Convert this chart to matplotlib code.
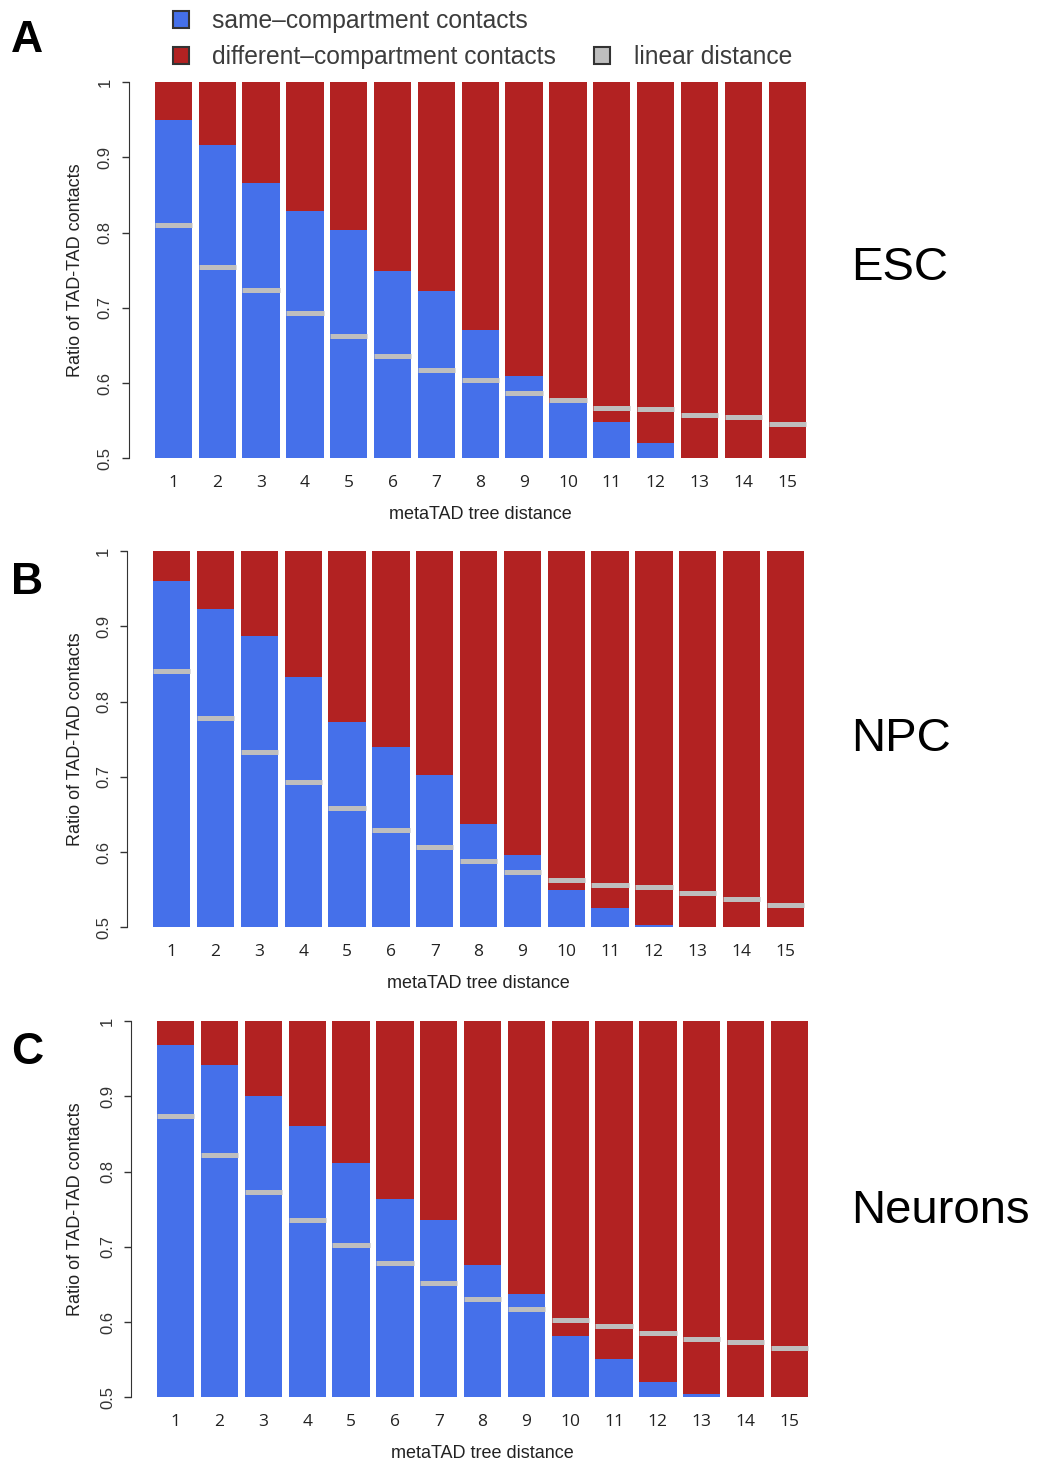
import numpy as np
import matplotlib
matplotlib.use('Agg')
import matplotlib.pyplot as plt
from matplotlib.patches import Patch
from matplotlib.lines import Line2D

plt.rcParams['font.family'] = ['Liberation Sans', 'DejaVu Sans']

# metaTAD tree distance 1..15
distance = np.arange(1, 16)

# ratio of same-compartment contacts (blue part of each bar)
esc_same = [0.949, 0.916, 0.866, 0.829, 0.803, 0.749, 0.722, 0.670,
            0.610, 0.573, 0.548, 0.520, 0.500, 0.500, 0.500]
npc_same = [0.960, 0.923, 0.887, 0.833, 0.773, 0.739, 0.703, 0.637,
            0.596, 0.550, 0.526, 0.503, 0.500, 0.500, 0.500]
neu_same = [0.968, 0.942, 0.900, 0.860, 0.811, 0.764, 0.735, 0.676,
            0.637, 0.581, 0.551, 0.520, 0.504, 0.500, 0.500]

# expectation from linear distance (grey marks)
esc_linear = [0.810, 0.754, 0.724, 0.693, 0.663, 0.636, 0.617, 0.604,
              0.587, 0.577, 0.567, 0.565, 0.558, 0.555, 0.545]
npc_linear = [0.840, 0.778, 0.733, 0.693, 0.658, 0.629, 0.607, 0.588,
              0.574, 0.563, 0.556, 0.553, 0.545, 0.537, 0.530]
neu_linear = [0.874, 0.822, 0.773, 0.736, 0.703, 0.679, 0.652, 0.631,
              0.617, 0.603, 0.595, 0.585, 0.577, 0.574, 0.566]

panels = ['A', 'B', 'C']
cells = ['ESC', 'NPC', 'Neurons']
same = [esc_same, npc_same, neu_same]
linear = [esc_linear, npc_linear, neu_linear]

blue = '#4570EA'
red = '#B22222'
grey = '#BEBEBE'

W, H = 1041, 1466
fig = plt.figure(figsize=(W / 100, H / 100), dpi=100)

# pixel layout of each panel: left spine x, top y, bottom y
lefts = [128.7, 127.0, 131.0]
tops = [82, 551, 1021]
bottoms = [458.3, 927.3, 1397.3]
letter_y = [40, 582, 1052]
cell_y = [268, 739, 1211]
pitch = 43.84
bw = 0.85
xlo, xhi = -0.019, 16.019

for i in range(3):
    axw = (xhi - xlo) * pitch
    ax = fig.add_axes([lefts[i] / W, 1 - bottoms[i] / H, axw / W,
                       (bottoms[i] - tops[i]) / H])
    s = np.array(same[i])
    ax.bar(distance, s, width=bw, color=blue, edgecolor='none')
    ax.bar(distance, 1 - s, bottom=s, width=bw, color=red, edgecolor='none')
    ax.hlines(linear[i], distance - bw / 2, distance + bw / 2,
              colors=grey, linewidth=3.6, capstyle='butt')

    ax.set_xlim(xlo, xhi)
    ax.set_ylim(0.5, 1)
    for side in ['top', 'right', 'bottom']:
        ax.spines[side].set_visible(False)
    ax.spines['left'].set_color('#333333')

    ax.set_xticks(distance)
    ax.set_xticklabels([str(d) for d in distance], family='Open Sans',
                       fontsize=12.5, color='#222222')
    ax.tick_params(axis='x', length=0, pad=12)

    yt = [0.5, 0.6, 0.7, 0.8, 0.9, 1.0]
    ax.set_yticks(yt)
    ax.set_yticklabels(['0.5', '0.6', '0.7', '0.8', '0.9', '1'],
                       fontsize=12, color='#333333', rotation=90, va='center')
    ax.tick_params(axis='y', length=5, width=1, color='#333333', pad=6.5)

    ph = bottoms[i] - tops[i]
    ax.text(0.5, -(56 / ph), 'metaTAD tree distance', transform=ax.transAxes,
            ha='center', va='center', fontsize=13, color='#222222')
    ax.text(-(lefts[i] - 76) / axw, 0.5, 'Ratio of TAD-TAD contacts',
            transform=ax.transAxes, rotation=90, ha='center', va='center',
            fontsize=13, color='#222222')

    fig.text(27 / W, 1 - letter_y[i] / H, panels[i], fontsize=32,
             fontweight='bold', ha='center', va='center')
    fig.text(851 / W, 1 - cell_y[i] / H, cells[i], fontsize=34,
             ha='left', va='center')

handles = [Patch(facecolor=blue, edgecolor='#333333', linewidth=1.5),
           Patch(facecolor=red, edgecolor='#333333', linewidth=1.5),
           Line2D([], [], linestyle='none'),
           Patch(facecolor=grey, edgecolor='#333333', linewidth=1.5)]
labels = ['same\u2013compartment contacts', 'different\u2013compartment contacts',
          '', 'linear distance']
leg = fig.legend(handles, labels, ncol=2, loc='upper left',
                 bbox_to_anchor=(173 / W, 1 - 9 / H), frameon=False,
                 fontsize=17.7, handlelength=0.65, handleheight=0.65,
                 handletextpad=0.95, columnspacing=1.55, labelspacing=0.5,
                 borderpad=0, borderaxespad=0)
for t in leg.get_texts():
    t.set_color('#3c3c3c')

fig.savefig('out.png', dpi=100)
